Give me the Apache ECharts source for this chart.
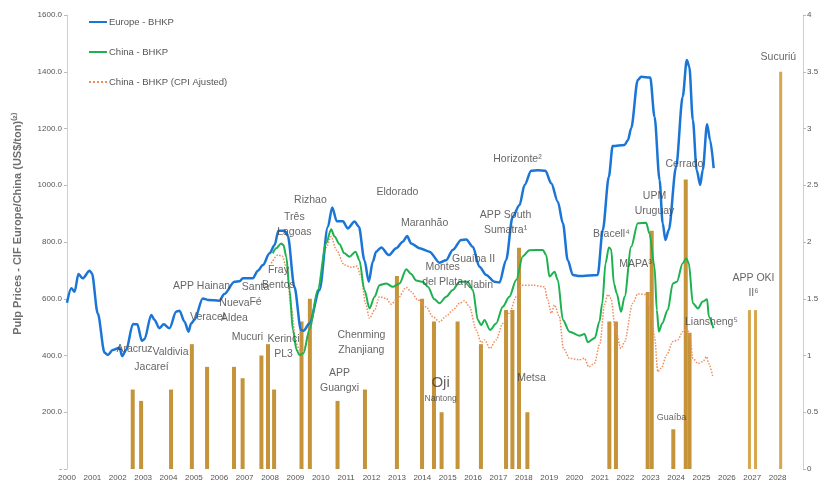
<!DOCTYPE html>
<html><head><meta charset="utf-8">
<script src="https://cdn.jsdelivr.net/npm/echarts@6/dist/echarts.min.js"></script>
<style>html,body{margin:0;padding:0;background:#fff}#c{width:831px;height:485px}</style>
</head><body><div id="c"></div>
<script>
// ---- data ----
const xTickYears = [2000,2001,2002,2003,2004,2005,2006,2007,2008,2009,2010,2011,2012,2013,2014,2015,2016,2017,2018,2019,2020,2021,2022,2023,2024,2025,2026,2027,2028];

const europeYears = [2000.0,2000.17,2000.3,2000.45,2000.62,2000.89,2000.98,2001.21,2001.48,2001.61,2001.8,2002.07,2002.17,2002.33,2002.6,2002.77,2002.95,2003.05,2003.32,2003.45,2003.64,2003.81,2004.04,2004.3,2004.43,2004.63,2004.79,2004.89,2005.02,2005.35,2005.55,2006.0,2006.2,2006.6,2006.8,2006.93,2007.32,2007.52,2007.72,2007.98,2008.18,2008.33,2008.57,2008.7,2008.96,2009.22,2009.32,2009.55,2009.95,2010.28,2010.45,2010.63,2010.87,2011.06,2011.33,2011.5,2011.72,2011.89,2012.05,2012.18,2012.38,2012.68,2012.97,2013.23,2013.4,2013.56,2013.89,2014.28,2014.68,2014.94,2015.2,2015.53,2015.73,2015.99,2016.25,2016.52,2016.84,2017.04,2017.3,2017.56,2017.83,2018.03,2018.29,2018.55,2018.85,2019.08,2019.34,2019.54,2019.73,2019.93,2020.19,2020.91,2021.11,2021.35,2021.5,2021.97,2022.1,2022.23,2022.49,2022.62,2022.98,2023.15,2023.35,2023.47,2023.58,2023.71,2024.0,2024.26,2024.42,2024.52,2024.66,2024.81,2024.95,2025.05,2025.22,2025.34,2025.48];
const europeValues = [586,637,625,687,672,699,690,549,410,402,419,427,398,419,511,510,452,457,543,525,496,510,496,554,558,519,484,513,525,601,596,593,617,660,662,672,672,699,719,760,789,840,840,821,642,490,487,513,631,854,922,873,873,848,872,854,736,660,731,766,781,754,778,801,821,795,778,766,727,736,772,807,809,783,713,684,660,657,736,889,930,1001,1051,1053,1051,1007,942,866,736,684,680,684,842,1030,1138,1142,1159,1201,1371,1382,1380,1241,1018,866,807,842,1065,1312,1441,1418,1230,1054,1001,1054,1215,1159,1060];

const chinaYears = [2008.11,2008.24,2008.44,2008.53,2008.64,2008.77,2008.9,2009.05,2009.16,2009.32,2009.55,2009.88,2010.21,2010.41,2010.54,2010.74,2010.93,2011.13,2011.37,2011.52,2011.72,2011.92,2012.12,2012.31,2012.58,2012.84,2013.1,2013.37,2013.56,2013.76,2014.02,2014.22,2014.48,2014.68,2014.94,2015.2,2015.47,2015.79,2015.99,2016.19,2016.32,2016.45,2016.67,2016.91,2017.17,2017.43,2017.7,2017.96,2018.22,2018.75,2018.88,2019.01,2019.21,2019.34,2019.54,2019.8,2020.19,2020.39,2020.52,2020.8,2020.98,2021.09,2021.22,2021.35,2021.44,2021.55,2021.66,2021.83,2021.97,2022.23,2022.49,2022.82,2022.95,2023.15,2023.24,2023.32,2023.45,2023.67,2023.87,2024.03,2024.26,2024.4,2024.5,2024.66,2024.86,2025.05,2025.22,2025.29,2025.47];
const chinaValues = [760,778,795,789,748,631,490,419,402,408,490,631,795,845,819,792,760,748,766,736,631,566,607,648,654,642,654,704,687,664,660,642,598,584,607,631,660,660,631,525,507,525,490,513,572,607,666,750,771,772,754,678,695,666,525,484,470,476,447,462,520,584,725,781,774,654,619,554,607,783,866,868,830,713,560,484,513,560,654,660,725,742,725,584,566,590,598,537,496];

const cpiYears = [2008.05,2008.31,2008.48,2008.64,2008.83,2009.03,2009.16,2009.3,2009.55,2009.88,2010.21,2010.41,2010.61,2010.93,2011.2,2011.42,2011.59,2011.76,2011.92,2012.12,2012.31,2012.58,2012.77,2013.03,2013.37,2013.56,2013.82,2014.15,2014.41,2014.68,2014.94,2015.2,2015.47,2015.66,2015.86,2016.12,2016.32,2016.45,2016.67,2016.91,2017.17,2017.43,2017.7,2017.9,2018.35,2018.81,2018.94,2019.08,2019.21,2019.4,2019.56,2019.8,2020.19,2020.39,2020.56,2020.78,2021.0,2021.18,2021.31,2021.44,2021.6,2021.83,2021.97,2022.29,2022.49,2022.82,2023.02,2023.15,2023.28,2023.41,2023.63,2023.87,2024.07,2024.26,2024.42,2024.55,2024.66,2024.86,2025.05,2025.2,2025.28,2025.44];
const cpiValues = [725,754,751,713,572,443,419,415,485,620,780,819,772,719,711,715,678,584,531,560,607,601,581,601,640,625,596,572,537,519,539,560,584,593,572,490,445,455,425,455,513,549,607,648,648,642,596,549,578,537,425,390,385,390,360,372,443,580,615,600,495,425,449,584,617,615,549,466,343,355,402,449,455,484,496,466,390,372,378,396,372,328];

// mills (right axis, million tons)
const millYears = [2002.57,2002.90,2004.08,2004.90,2005.50,2006.56,2006.90,2007.64,2007.90,2008.14,2009.22,2009.55,2010.64,2011.72,2012.98,2013.97,2014.44,2014.74,2015.37,2016.29,2017.28,2017.53,2017.79,2018.12,2021.35,2021.61,2022.86,2023.02,2023.87,2024.36,2024.51];
const millValues = [0.7,0.6,0.7,1.1,0.9,0.9,0.8,1.0,1.1,0.7,1.3,1.5,0.6,0.7,1.7,1.5,1.3,0.5,1.3,1.1,1.4,1.4,1.95,0.5,1.3,1.3,1.56,2.1,0.35,2.55,1.2];
const futureMillYears = [2026.89,2027.13,2028.12];
const futureMillValues = [1.4,1.4,3.5];

const annotationNames = ['Aracruz','Jacareí','Valdivia','APP Hainan','Veracel','Nueva\nAldea','Santa\nFé','Mucuri','Fray\nBentos','Kerinci\nPL3','Três\nLagoas','Rizhao','APP\nGuangxi','Chenming\nZhanjiang','Eldorado','Maranhão','Montes\ndel Plata','Oji','Nantong','Guaíba II','Klabin','APP South\nSumatra¹','Horizonte²','Metsa','Bracell⁴','MAPA³','UPM\nUruguay','Cerrado','Guaíba','Liansheng⁵','APP OKI\nII⁶','Sucuriú'];
const annotationYears = [2002.66,2003.33,2004.08,2005.30,2005.54,2006.60,2007.43,2007.11,2008.33,2008.53,2008.96,2009.59,2010.74,2011.60,2013.02,2014.09,2014.80,2014.72,2014.72,2016.02,2016.21,2017.28,2017.75,2018.30,2021.45,2022.40,2023.15,2024.33,2023.82,2025.39,2027.05,2028.03];
const annotationValues = [423,359,412,645,536,557,613,465,673,430,860,948,310,444,976,867,684,303,247,740,648,867,1092,321,828,722,937,1075,183,518,648,1452];

const legendNames = ['Europe - BHKP','China - BHKP','China - BHKP (CPI Ajusted)'];

// ---- build ----
const FONT = "'Liberation Sans Narrow','Arial Narrow','Liberation Sans',sans-serif";
const pairs = (xs, ys) => xs.map((x, i) => [x, ys[i]]);
const labelData = annotationNames.map((n, i) => {
  const item = { value: [annotationYears[i], annotationValues[i]], name: n };
  if (n === 'Oji') item.label = { fontSize: 15 };
  if (n === 'Nantong') item.label = { fontSize: 8.5 };
  if (n === 'Guaíba') item.label = { fontSize: 9 };
  return item;
});

const chart = echarts.init(document.getElementById('c'), null, { renderer: 'canvas' });
chart.setOption({
  animation: false,
  backgroundColor: '#ffffff',
  textStyle: { fontFamily: FONT },
  grid: { left: 67, right: 28, top: 15, bottom: 16, containLabel: false },
  legend: {
    data: legendNames, orient: 'vertical', left: 83, top: 12, itemGap: 20,
    itemWidth: 18, itemHeight: 12,
    itemStyle: { opacity: 0 },
    textStyle: { fontSize: 9.5, color: '#555', fontFamily: FONT, padding: [0, 0, 0, -3] }
  },
  xAxis: {
    type: 'value', min: 2000, max: 2029, interval: 1,
    axisLine: { show: false }, axisTick: { show: false }, splitLine: { show: false },
    axisLabel: { fontSize: 8, color: '#555', margin: 5, fontFamily: FONT,
      formatter: v => (xTickYears.indexOf(v) >= 0 ? String(v) : '') }
  },
  yAxis: [
    { type: 'value', min: 0, max: 1600, interval: 200,
      name: 'Pulp Prices - CIF Europe/China (US$/ton)⁽²⁾', nameLocation: 'middle', nameGap: 44,
      nameTextStyle: { fontSize: 11, color: '#6e6e6e', fontWeight: 'bold', fontFamily: FONT, padding: [0, 0, 0, 36] },
      axisLine: { show: true, lineStyle: { color: '#cfcfcf', width: 1 } },
      axisTick: { show: true, length: 3, lineStyle: { color: '#bbb' } },
      splitLine: { show: false },
      axisLabel: { fontSize: 8, color: '#555', margin: 5, fontFamily: FONT,
        formatter: v => (v === 0 ? '-' : v.toFixed(1)) } },
    { type: 'value', min: 0, max: 4, interval: 0.5, position: 'right',
      axisLine: { show: true, lineStyle: { color: '#cfcfcf', width: 1 } },
      axisTick: { show: true, length: 3, lineStyle: { color: '#bbb' } },
      splitLine: { show: false },
      axisLabel: { fontSize: 8, color: '#555', margin: 4, fontFamily: FONT } }
  ],
  series: [
    { type: 'bar', name: 'mills', yAxisIndex: 1, data: pairs(millYears, millValues),
      barWidth: 4, barGap: '-100%', itemStyle: { color: '#c4933a' }, z: 1 },
    { type: 'bar', name: 'future', yAxisIndex: 1, data: pairs(futureMillYears, futureMillValues),
      barWidth: 3, barGap: '-100%', itemStyle: { color: '#d6a74e' }, z: 1 },
    { type: 'line', name: legendNames[0], data: pairs(europeYears, europeValues), symbol: 'none',
      smooth: 0.3, smoothMonotone: 'x', lineStyle: { color: '#1a75d6', width: 2.5 }, itemStyle: { color: '#1a75d6' }, z: 4 },
    { type: 'line', name: legendNames[1], data: pairs(chinaYears, chinaValues), symbol: 'none',
      smooth: 0.3, smoothMonotone: 'x', lineStyle: { color: '#1db14f', width: 2 }, itemStyle: { color: '#1db14f' }, z: 4 },
    { type: 'line', name: legendNames[2], data: pairs(cpiYears, cpiValues), symbol: 'none',
      smooth: 0.3, smoothMonotone: 'x', lineStyle: { color: '#f08c5a', width: 1.5, type: 'dotted' }, itemStyle: { color: '#f08c5a' }, z: 3 },
    { type: 'scatter', name: 'labels', data: labelData, symbolSize: 1, itemStyle: { color: 'rgba(0,0,0,0)' }, z: 6,
      silent: true,
      label: { show: true, position: 'inside', formatter: p => p.name, fontSize: 10.5, lineHeight: 15,
        color: '#404040', fontFamily: FONT, align: 'center', verticalAlign: 'middle' } }
  ]
});
</script></body></html>
